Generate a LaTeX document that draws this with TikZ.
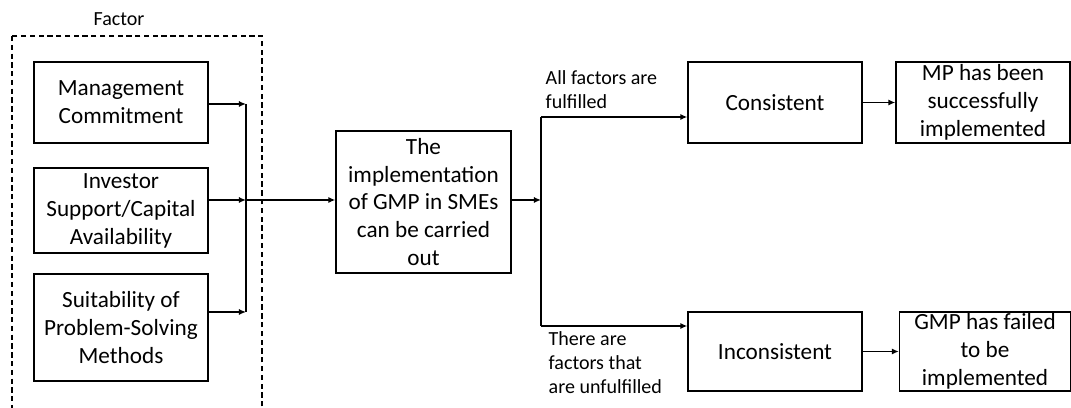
\documentclass[tikz,border=0pt]{standalone}
\usepackage{fontspec}
\setmainfont{Carlito}
\usetikzlibrary{arrows.meta}
\begin{document}
\begin{tikzpicture}[x=0.02cm, y=-0.02cm, line width=0.8pt,
    box/.style={draw, rectangle, inner sep=0pt, align=center, minimum width=3.48cm,
        font=\fontsize{13.2}{15.9}\selectfont},
    lbl/.style={inner sep=0pt, align=left, font=\fontsize{11.4}{13.7}\selectfont},
    arr/.style={-{Latex[length=4pt,width=3.5pt]}}]
    \useasboundingbox (0,0) rectangle (1071,408);

    \begin{scope}
        \clip (0,0) rectangle (1071,408);
        \draw[dash pattern=on 3pt off 2pt, line width=0.6pt] (12,36) rectangle (262,430);
    \end{scope}
    \node[lbl] (factor) at (119,19) {Factor};

    \node[box, minimum height=1.62cm] (mgmt) at (121,102.5) {Management\\Commitment};
    \node[box, minimum height=1.7cm] (invest) at (121,210.5) {Investor\\Support/Capital\\Availability};
    \node[box, minimum height=2.14cm] (suit) at (121,327.5) {Suitability of\\Problem-Solving\\Methods};

    \coordinate (jtop) at (246,104);
    \coordinate (jmid) at (246,200);
    \coordinate (jbot) at (246,312);
    \draw[arr] (mgmt.east |- jtop) -- (jtop);
    \draw[arr] (invest.east |- jmid) -- (jmid);
    \draw[arr] (suit.east |- jbot) -- (jbot);
    \draw (jtop) -- (jbot);

    \node[box, minimum width=3.5cm, minimum height=2.84cm] (impl) at (423.5,202) {The\\implementation\\of GMP in SMEs\\can be carried\\out};
    \draw[arr] (jmid) -- (jmid -| impl.west);

    \coordinate (split) at (541,200);
    \coordinate (stop) at (541,117);
    \coordinate (sbot) at (541,326);
    \draw[arr] (impl.east |- split) -- (split);
    \draw (stop) -- (sbot);

    \node[box, minimum height=1.62cm] (cons) at (775,102.5) {Consistent};
    \node[box, minimum height=1.62cm] (mp) at (983,102.5) {MP has been\\successfully\\implemented};
    \node[box, minimum height=1.58cm] (incons) at (775,351.5) {Inconsistent};
    \node[box, minimum width=3.42cm, minimum height=1.58cm] (fail) at (985,351.5) {GMP has failed\\to be\\implemented};

    \draw[arr] (stop) -- (stop -| cons.west);
    \draw[arr] (sbot) -- (sbot -| incons.west);
    \draw[arr] (cons.east) -- (mp.west);
    \draw[arr] (incons.east) -- (fail.west);

    \node[lbl, anchor=west] (yes) at (545,90) {All factors are\\fulfilled};
    \node[lbl, anchor=west] (no) at (548,363) {There are\\factors that\\are unfulfilled};
\end{tikzpicture}
\end{document}
